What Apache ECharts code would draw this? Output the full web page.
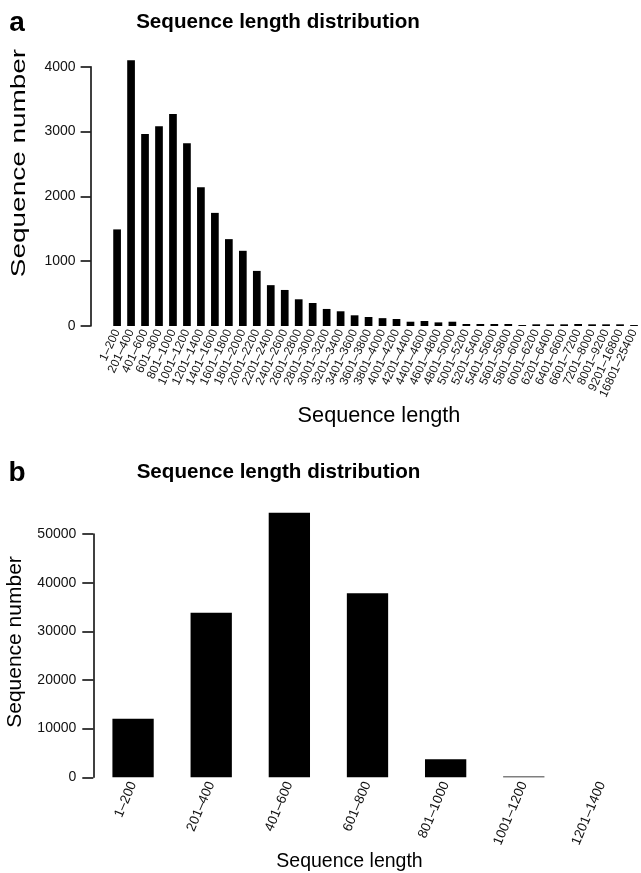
<!DOCTYPE html>
<html>
<head>
<meta charset="utf-8">
<script src="https://cdn.jsdelivr.net/npm/echarts@6/dist/echarts.min.js"></script>
<style>
html,body{margin:0;padding:0;background:#fff;}
#chart{width:641px;height:873px;}
</style>
</head>
<body>
<div id="chart"></div>
<script>
// ---- Data ----
const categoriesA = ['1–200','201–400','401–600','601–800','801–1000','1001–1200','1201–1400','1401–1600','1601–1800','1801–2000','2001–2200','2201–2400','2401–2600','2601–2800','2801–3000','3001–3200','3201–3400','3401–3600','3601–3800','3801–4000','4001–4200','4201–4400','4401–4600','4601–4800','4801–5000','5001–5200','5201–5400','5401–5600','5601–5800','5801–6000','6001–6200','6201–6400','6401–6600','6601–7200','7201–8000','8001–9200','9201–16800','16801–25400'];
const valuesA = [1490,4100,2960,3080,3270,2820,2140,1745,1340,1160,850,630,556,412,355,263,227,165,139,121,108,66,77,56,66,31,31,31,31,15,26,26,26,31,26,26,26,15];
const yTicksA = [0,1000,2000,3000,4000];

const categoriesB = ['1–200','201–400','401–600','601–800','801–1000','1001–1200','1201–1400'];
const valuesB = [12040,33820,54370,37800,3700,150,30];
const yTicksB = [0,10000,20000,30000,40000,50000];

const titleText = 'Sequence length distribution';
const xName = 'Sequence length';
const yName = 'Sequence number';

// ---- Chart ----
const FONT = '"Liberation Sans", Arial, Helvetica, sans-serif';
const chart = echarts.init(document.getElementById('chart'), null, {renderer: 'canvas'});

function yAxisCfg(grid, ticks, offset, tickLen, margin) {
  return {
    type: 'value', gridIndex: grid,
    min: ticks[0], max: ticks[ticks.length - 1], interval: ticks[1] - ticks[0],
    offset: offset,
    axisLine: {show: true, lineStyle: {color: '#000', width: 1.5}},
    axisTick: {show: true, length: tickLen, lineStyle: {color: '#000', width: 1.5}},
    axisLabel: {margin: margin, fontSize: 14, color: '#111', fontFamily: FONT,
                formatter: function (v) { return String(v); }},
    splitLine: {show: false}
  };
}

function txt(text, x, y, size, bold, opts) {
  return Object.assign({
    type: 'text', x: x, y: y, silent: true,
    style: {text: text, fontSize: size, fontWeight: bold ? 'bold' : 'normal', fontFamily: FONT,
            fill: '#000', align: 'center', verticalAlign: 'middle'}
  }, opts || {});
}

const option = {
  animation: false,
  backgroundColor: '#fff',
  grid: [
    {left: 110.1, top: 66.7, width: 537, height: 259.3},
    {left: 94, top: 534, width: 570.5, height: 243.3}
  ],
  xAxis: [
    {type: 'category', gridIndex: 0, data: categoriesA,
     axisLine: {show: false}, axisTick: {show: false},
     axisLabel: {interval: 0, rotate: 65, fontSize: 12, margin: 4, color: '#111', fontFamily: FONT}},
    {type: 'category', gridIndex: 1, data: categoriesB,
     axisLine: {show: false}, axisTick: {show: false},
     axisLabel: {interval: 0, rotate: 67, fontSize: 13.5, margin: 5, color: '#111', fontFamily: FONT}}
  ],
  yAxis: [
    yAxisCfg(0, yTicksA, 19.5, 10, 15),
    yAxisCfg(1, yTicksB, 0.7, 11, 17)
  ],
  series: [
    {type: 'bar', xAxisIndex: 0, yAxisIndex: 0, data: valuesA, barWidth: 7.7,
     clip: false, itemStyle: {color: '#000'}, silent: true},
    {type: 'bar', xAxisIndex: 1, yAxisIndex: 1, data: valuesB, barWidth: 41.3,
     clip: false, itemStyle: {color: '#000'}, silent: true}
  ],
  graphic: [
    txt('a', 17, 23.5, 28, true),
    txt('b', 17, 473, 28, true),
    txt(titleText, 278, 22.5, 20.6, true),
    txt(titleText, 278.5, 472.5, 20.6, true),
    txt(xName, 379, 416, 21.7, false),
    txt(xName, 349.5, 861.3, 19.5, false),
    txt(yName, 19, 163, 21, false, {rotation: Math.PI / 2, scaleX: 1.33}),
    txt(yName, 15, 642, 21, false, {rotation: Math.PI / 2})
  ]
};
chart.setOption(option);
</script>
</body>
</html>
